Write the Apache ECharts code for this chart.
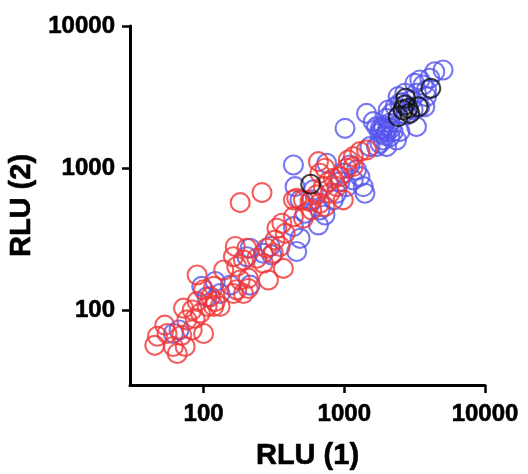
<!DOCTYPE html>
<html>
<head>
<meta charset="utf-8">
<script src="https://cdn.jsdelivr.net/npm/echarts@6/dist/echarts.min.js"></script>
<style>html,body{margin:0;padding:0;background:#fff}#c{width:528px;height:474px}</style>
</head>
<body>
<div id="c"></div>
<script>
var xTitle = 'RLU (1)';
var yTitle = 'RLU (2)';
var tickValues = [100, 1000, 10000];

var redPoints = [
  [45,57],[53,79],[47,66],[61,56],[65,50],[74,56],[55,69],[70,67],[83,73],[100,69],
  [76,86],[87,88],[72,104],[90,116],[83,101],[95,96],[106,107],[112,125],[121,116],[131,107],
  [100,140],[118,148],[90,178],[139,193],[163,132],[172,140],[192,132],[208,143],[182,164],[208,169],
  [172,204],[192,227],[163,239],[168,282],[203,274],[239,233],[266,215],[289,164],[369,198],[313,253],
  [281,274],[350,282],[322,313],[380,349],[360,411],[332,379],[182,574],[260,675],[435,457],[459,615],
  [512,600],[512,446],[587,509],[571,583],[671,568],[636,650],[729,538],[791,667],[710,743],[770,805],
  [836,850],[932,874],[883,743],[984,600],[655,1114],[729,1000],[1040,1000],[1068,1145],[1158,1208],[1291,1309],
  [1439,1345],[1158,1027],[671,922],[435,600],[118,107]
];

var bluePoints = [
  [67,73],[61,69],[97,148],[121,160],[155,151],[214,151],[131,132],[106,125],[214,274],[266,253],
  [305,246],[297,282],[459,260],[485,322],[435,389],[435,1054],[447,743],[485,600],[526,483],[655,400],
  [671,509],[603,705],[587,600],[729,470],[836,600],[883,667],[932,805],[750,1084],[984,922],[1097,1054],
  [1222,973],[1291,874],[1158,828],[1364,743],[1402,667],[1040,743],[1012,1909],[1439,2432],[1606,2128],[1696,1963],
  [1790,1763],[1891,1582],[1997,1420],[1696,1420],[1997,2244],[2109,2071],[1891,1909],[2227,1811],[2351,1582],[2109,1668],
  [2483,1811],[2168,2432],[2052,2570],[2483,2864],[2416,3191],[2692,3366],[3004,3022],[3259,3366],[3170,3954],[3441,4177],
  [3631,3849],[4055,4289],[3838,3548],[3084,2570],[3441,2710],[3733,2710],[3259,1963],[3838,3191],[2767,2371],[4396,4775],
  [5035,4909],[1790,1499],[1521,1420],[1900,2000],[2000,1800],[1800,1900],[2050,1950],[1950,1700],[1850,1850],[2150,1900],
  [2300,2700],[2600,2900],[203,239]
];

var blackPoints = [
  [577,773],[4120,3647],[2733,3104],[2416,2306],[2618,2570],[2842,2643],[3348,2710],[2692,2788],[2924,2432]
];

var FONT = 'Liberation Sans, Arial, sans-serif';

function axisCfg(name, isX) {
  return {
    type: 'log',
    logBase: 10,
    min: 30,
    max: 10000,
    name: name,
    nameLocation: 'middle',
    nameGap: isX ? 56 : 88,
    nameTextStyle: { fontFamily: FONT, fontWeight: 'bold', fontSize: 29, color: '#000', textBorderColor: '#000', textBorderWidth: 0.6 },
    axisLine: { show: true, lineStyle: { color: '#000', width: 3 } },
    axisTick: { show: true, length: 8, lineStyle: { color: '#000', width: 2.5 }, customValues: tickValues },
    axisLabel: {
      show: true, margin: isX ? 17 : 15, fontFamily: FONT, fontWeight: 'bold', fontSize: 24, color: '#000',
      textBorderColor: '#000', textBorderWidth: 0.6,
      customValues: tickValues,
      formatter: function (v) { return String(Math.round(v)); }
    },
    splitLine: { show: false },
    minorTick: { show: false }
  };
}

function series(data, color) {
  return {
    type: 'scatter',
    data: data,
    symbol: 'circle',
    symbolSize: 19,
    itemStyle: { color: 'rgba(0,0,0,0)', borderColor: color, borderWidth: 2.1 },
    emphasis: { disabled: true }
  };
}

var chart = echarts.init(document.getElementById('c'), null, { renderer: 'canvas' });
chart.setOption({
  animation: false,
  backgroundColor: '#fff',
  grid: { left: 130, right: 43, top: 26, bottom: 89, containLabel: false, outerBoundsMode: 'none' },
  xAxis: axisCfg(xTitle, true),
  yAxis: axisCfg(yTitle, false),
  series: [
    series(bluePoints, '#5555ee'),
    series(redPoints, '#f03535'),
    series(blackPoints, '#111111')
  ]
});
</script>
</body>
</html>
